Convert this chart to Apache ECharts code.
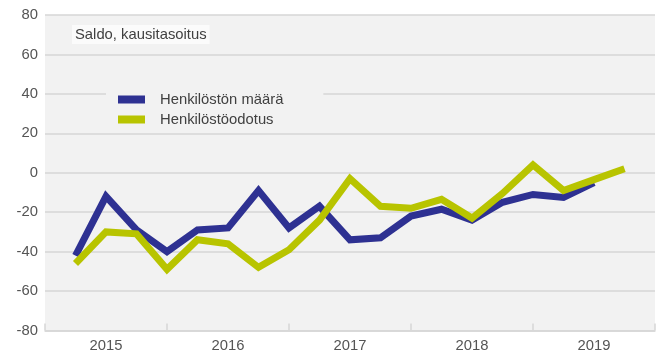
<!DOCTYPE html>
<html>
<head>
<meta charset="utf-8">
<script src="https://cdn.jsdelivr.net/npm/echarts@6/dist/echarts.min.js"></script>
<style>
  html, body { margin: 0; padding: 0; background: #fff; }
  #chart { width: 657px; height: 354px; }
</style>
</head>
<body>
<div id="chart"></div>
<script>
// Quarter positions; index 0 is the start of 2015, data points sit at quarter ends
const quarters = [
  '2014Q4',
  '2015Q1', '2015Q2', '2015Q3', '2015Q4',
  '2016Q1', '2016Q2', '2016Q3', '2016Q4',
  '2017Q1', '2017Q2', '2017Q3', '2017Q4',
  '2018Q1', '2018Q2', '2018Q3', '2018Q4',
  '2019Q1', '2019Q2', '2019Q3', '2019Q4'
];

// Saldo, seasonally adjusted
const henkilostonMaara = [
  null,
  -42, -12, -29, -40,
  -29, -28, -9, -28,
  -17, -34, -33, -22,
  -18.5, -24, -15, -11,
  -12.5, -5, null, null
];

const henkilostoodotus = [
  null,
  -46, -30, -31, -49,
  -34, -36, -48, -39,
  -24, -3, -17, -18,
  -13.5, -23, -10.5, 4,
  -9, -3.5, 2, null
];

const yMin = -80, yMax = 80, yStep = 20;

const labelColor = '#555555';
const gridColor = '#d6d6d6';
const font = 'Liberation Sans, Arial, sans-serif';
const fs = 14.8;

const chart = echarts.init(document.getElementById('chart'));
chart.setOption({
  animation: false,
  title: {
    text: 'Saldo, kausitasoitus',
    left: 72,
    top: 25,
    padding: [2, 3],
    backgroundColor: '#fbfbfb',
    textStyle: { fontFamily: font, fontSize: fs, fontWeight: 'normal', color: '#404040' }
  },
  legend: {
    orient: 'vertical',
    left: 106,
    top: 86,
    padding: [5, 40, 4, 12],
    itemGap: 3,
    itemWidth: 27,
    itemHeight: 8,
    icon: 'rect',
    backgroundColor: '#f2f2f2',
    textStyle: { fontFamily: font, fontSize: fs, color: '#404040', lineHeight: 17, padding: [0, 0, 0, 10] },
    data: ['Henkilöstön määrä', 'Henkilöstöodotus']
  },
  grid: {
    left: 45, right: 2, top: 15, bottom: 23.5,
    show: true, backgroundColor: '#f2f2f2', borderWidth: 0
  },
  xAxis: {
    type: 'category',
    data: quarters,
    boundaryGap: false,
    axisLine: { show: true, onZero: false, lineStyle: { color: gridColor, width: 1.5 } },
    axisTick: {
      show: true, inside: true, length: 7,
      interval: (i) => i % 4 === 0,
      lineStyle: { color: gridColor, width: 1.5 }
    },
    axisLabel: {
      interval: (i) => i % 4 === 2,
      formatter: (v) => v.slice(0, 4),
      color: labelColor, fontFamily: font, fontSize: fs, margin: 8
    },
    splitLine: { show: false }
  },
  yAxis: {
    type: 'value',
    min: yMin, max: yMax, interval: yStep,
    axisLine: { show: false },
    axisTick: { show: false },
    axisLabel: { color: labelColor, fontFamily: font, fontSize: fs, margin: 7 },
    splitLine: { lineStyle: { color: gridColor, width: 1.5 } }
  },
  series: [
    {
      name: 'Henkilöstön määrä',
      type: 'line',
      data: henkilostonMaara,
      symbol: 'none',
      color: '#2e3192',
      lineStyle: { width: 7, color: '#2e3192', join: 'miter' },
      itemStyle: { color: '#2e3192' }
    },
    {
      name: 'Henkilöstöodotus',
      type: 'line',
      data: henkilostoodotus,
      symbol: 'none',
      color: '#b8c400',
      lineStyle: { width: 7, color: '#b8c400', join: 'miter' },
      itemStyle: { color: '#b8c400' }
    }
  ]
});
</script>
</body>
</html>
